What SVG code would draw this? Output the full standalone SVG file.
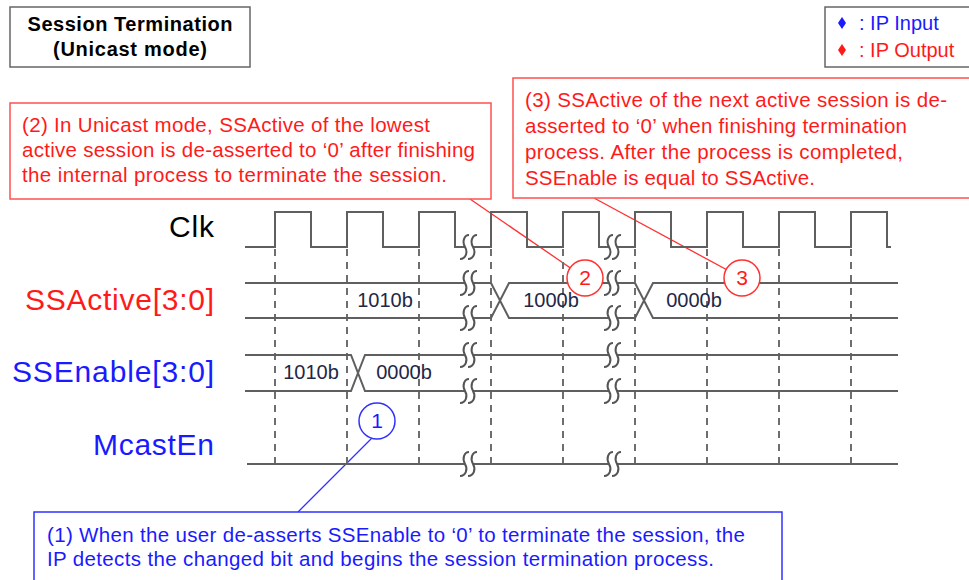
<svg xmlns="http://www.w3.org/2000/svg" xmlns:xlink="http://www.w3.org/1999/xlink" width="969" height="580" viewBox="0 0 969 580">
<style>
  .t{font-family:"Liberation Sans",Arial,sans-serif}
  .red{fill:#ff1a1a}
  .blue{fill:#1a1aff}
  .sig{fill:none;stroke:#5f5f5f;stroke-width:2}
  .dash{fill:none;stroke:#6e6e6e;stroke-width:2;stroke-dasharray:7 6}
  .rbox{fill:#fff;stroke:#ff5050;stroke-width:1.5}
  .bbox{fill:#fff;stroke:#3030ff;stroke-width:1.5}
  .gbox{fill:#fff;stroke:#666;stroke-width:1.5}
  .val{font-family:"Liberation Sans",Arial,sans-serif;font-size:20px;fill:#1f2747;text-anchor:middle}
  .lbl{font-family:"Liberation Sans",Arial,sans-serif;font-size:30px;text-anchor:end}
  .note{font-family:"Liberation Sans",Arial,sans-serif;font-size:20.5px}
  .num{font-family:"Liberation Sans",Arial,sans-serif;font-size:21px;text-anchor:middle}
</style>
<defs>
  <g id="brk">
    <rect x="-4" y="-3" width="8" height="6" fill="#fff"/>
    <path d="M0,-12 C-5,-12 -7,-5 -4,0 S-3,12 -9,12" fill="none" stroke="#555" stroke-width="2"/>
    <path d="M8,-12 C3,-12 1,-5 4,0 S5,12 -1,12" fill="none" stroke="#555" stroke-width="2"/>
  </g>
</defs>
<rect width="969" height="580" fill="#fff"/>

<g id="title">
  <rect class="gbox" x="10" y="7" width="240" height="60"/>
  <text class="t" x="130" y="31" font-size="20" font-weight="bold" text-anchor="middle" textLength="205">Session Termination</text>
  <text class="t" x="130" y="56" font-size="20" font-weight="bold" text-anchor="middle" textLength="154">(Unicast mode)</text>
</g>

<g id="legend">
  <rect class="gbox" x="825" y="7" width="150" height="60"/>
  <polygon points="842,17 846,23 842,29 838,23" fill="#1a1aff"/>
  <text class="t blue" x="859" y="30" font-size="20">: IP Input</text>
  <polygon points="842,44 846,50 842,56 838,50" fill="#ff1a1a"/>
  <text class="t red" x="859" y="57" font-size="20">: IP Output</text>
</g>

<g id="connectors">
  <line x1="470" y1="199" x2="585" y2="278" stroke="#ff3030" stroke-width="1.3"/>
  <line x1="594" y1="198" x2="742" y2="278" stroke="#ff3030" stroke-width="1.3"/>
  <line x1="298" y1="512" x2="372" y2="438" stroke="#3030ff" stroke-width="1.3"/>
</g>

<g id="note2">
  <rect class="rbox" x="10" y="103" width="481" height="96"/>
  <text class="note red" x="22" y="132" textLength="408">(2) In Unicast mode, SSActive of the lowest</text>
  <text class="note red" x="22" y="157" textLength="453">active session is de-asserted to ‘0’ after finishing</text>
  <text class="note red" x="22" y="182" textLength="425">the internal process to terminate the session.</text>
</g>

<g id="note3">
  <rect class="rbox" x="513" y="78" width="470" height="120"/>
  <text class="note red" x="525" y="107" textLength="422">(3) SSActive of the next active session is de-</text>
  <text class="note red" x="525" y="133" textLength="382">asserted to ‘0’ when finishing termination</text>
  <text class="note red" x="525" y="159" textLength="378">process. After the process is completed,</text>
  <text class="note red" x="525" y="185" textLength="290">SSEnable is equal to SSActive.</text>
</g>

<g id="note1">
  <rect class="bbox" x="34" y="512" width="748" height="80"/>
  <text class="note blue" x="47" y="542" textLength="698">(1) When the user de-asserts SSEnable to ‘0’ to terminate the session, the</text>
  <text class="note blue" x="47" y="566" textLength="667">IP detects the changed bit and begins the session termination process.</text>
</g>

<g id="labels">
  <text class="lbl" x="214" y="237" fill="#000" textLength="45">Clk</text>
  <text class="lbl red" x="214" y="310" textLength="189">SSActive[3:0]</text>
  <text class="lbl blue" x="214" y="382" textLength="202">SSEnable[3:0]</text>
  <text class="lbl blue" x="214" y="455" textLength="121">McastEn</text>
</g>

<g id="gridlines">
  <line class="dash" x1="275" y1="249" x2="275" y2="468"/>
  <line class="dash" x1="347" y1="249" x2="347" y2="468"/>
  <line class="dash" x1="419" y1="249" x2="419" y2="468"/>
  <line class="dash" x1="491" y1="249" x2="491" y2="468"/>
  <line class="dash" x1="563" y1="249" x2="563" y2="468"/>
  <line class="dash" x1="635" y1="249" x2="635" y2="468"/>
  <line class="dash" x1="707" y1="249" x2="707" y2="468"/>
  <line class="dash" x1="779" y1="249" x2="779" y2="468"/>
  <line class="dash" x1="851" y1="249" x2="851" y2="468"/>
</g>

<g id="clk">
  <path class="sig" d="M245,247 H275 V212 H311 V247 H347 V212 H383 V247 H419 V212 H455 V247 H491 V212 H527 V247 H563 V212 H599 V247 H635 V212 H671 V247 H707 V212 H743 V247 H779 V212 H815 V247 H851 V212 H887 V247 H891"/>
</g>

<g id="ssactive">
  <path class="sig" d="M245,283 H491 L509,318 H635 L653,283 H898"/>
  <path class="sig" d="M245,318 H491 L509,283 H635 L653,318 H898"/>
  <text class="val" x="385" y="307">1010b</text>
  <text class="val" x="551" y="307">1000b</text>
  <text class="val" x="694" y="307">0000b</text>
</g>

<g id="ssenable">
  <path class="sig" d="M245,355 H351 L365,391 H898"/>
  <path class="sig" d="M245,391 H351 L365,355 H898"/>
  <text class="val" x="311" y="379">1010b</text>
  <text class="val" x="404" y="379">0000b</text>
</g>

<g id="mcasten">
  <path class="sig" d="M247,464 H898" stroke="#4a4a4a"/>
</g>

<g id="breaks">
  <use xlink:href="#brk" x="469" y="247"/>
  <use xlink:href="#brk" x="469" y="283"/>
  <use xlink:href="#brk" x="469" y="318"/>
  <use xlink:href="#brk" x="469" y="355"/>
  <use xlink:href="#brk" x="469" y="391"/>
  <use xlink:href="#brk" x="469" y="464"/>
  <use xlink:href="#brk" x="613" y="247"/>
  <use xlink:href="#brk" x="613" y="283"/>
  <use xlink:href="#brk" x="613" y="318"/>
  <use xlink:href="#brk" x="613" y="355"/>
  <use xlink:href="#brk" x="613" y="391"/>
  <use xlink:href="#brk" x="613" y="464"/>
</g>

<g id="c1">
  <circle cx="377" cy="421" r="18" fill="#fff" stroke="#3030ff" stroke-width="1.5"/>
  <text class="num blue" x="377" y="428">1</text>
</g>
<g id="c2">
  <circle cx="585" cy="278" r="18" fill="#fff" stroke="#ff3030" stroke-width="1.5"/>
  <text class="num red" x="585" y="285">2</text>
</g>
<g id="c3">
  <circle cx="742" cy="278" r="18" fill="#fff" stroke="#ff3030" stroke-width="1.5"/>
  <text class="num red" x="742" y="285">3</text>
</g>
</svg>
